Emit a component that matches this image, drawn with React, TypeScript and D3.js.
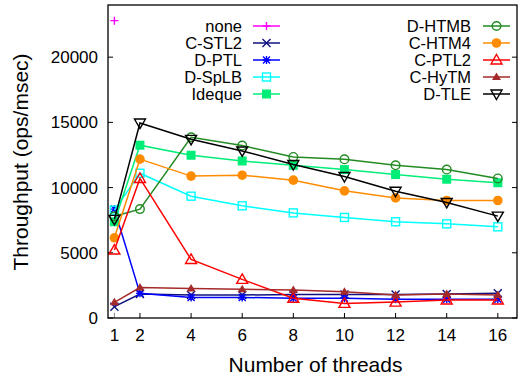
import React from 'react';
import * as d3 from 'd3';

const threads = [1, 2, 4, 6, 8, 10, 12, 14, 16];
const yTicks = [0, 5000, 10000, 15000, 20000];

const noneVals = [22800];
const cStl2Vals = [870, 1840, 1760, 1760, 1810, 1810, 1810, 1840, 1890];
const dPtlVals = [8350, 1890, 1580, 1580, 1510, 1510, 1430, 1430, 1430];
const dSplbVals = [8270, 11100, 9340, 8600, 8060, 7710, 7380, 7220, 6990];
const idequeVals = [7380, 13250, 12480, 12040, 11710, 11380, 11000, 10640, 10370];
const dHtmbVals = [7800, 8350, 13860, 13220, 12350, 12170, 11710, 11380, 10700];
const cHtm4Vals = [6150, 12180, 10880, 10950, 10570, 9750, 9210, 9010, 9010];
const cPtl2Vals = [5210, 10700, 4490, 2960, 1510, 1120, 1220, 1380, 1380];
const cHytmVals = [1200, 2340, 2270, 2200, 2140, 2010, 1760, 1840, 1760];
const dTleVals = [7560, 14950, 13700, 12810, 11770, 10850, 9720, 8860, 7810];

type Marker = 'plus' | 'cross' | 'star' | 'sqOpen' | 'sqFill' | 'circOpen' | 'circFill' | 'triOpen' | 'triFill' | 'triDown';

const series: { name: string; values: number[]; color: string; marker: Marker }[] = [
  { name: 'none', values: noneVals, color: '#ff00ff', marker: 'plus' },
  { name: 'C-STL2', values: cStl2Vals, color: '#101080', marker: 'cross' },
  { name: 'D-PTL', values: dPtlVals, color: '#0000ff', marker: 'star' },
  { name: 'D-SpLB', values: dSplbVals, color: '#00ffff', marker: 'sqOpen' },
  { name: 'Ideque', values: idequeVals, color: '#00ee77', marker: 'sqFill' },
  { name: 'D-HTMB', values: dHtmbVals, color: '#228b22', marker: 'circOpen' },
  { name: 'C-HTM4', values: cHtm4Vals, color: '#ff8c00', marker: 'circFill' },
  { name: 'C-PTL2', values: cPtl2Vals, color: '#ff0000', marker: 'triOpen' },
  { name: 'C-HyTM', values: cHytmVals, color: '#a52a2a', marker: 'triFill' },
  { name: 'D-TLE', values: dTleVals, color: '#000000', marker: 'triDown' },
];

const W = 520;
const H = 376;
const plot = { left: 108, right: 517, top: 5, bottom: 318 };
const font = '"Liberation Sans", Arial, sans-serif';

const x = d3.scaleLinear().domain([0.75, 16.75]).range([plot.left, plot.right]);
const y = d3.scaleLinear().domain([0, 24000]).range([plot.bottom, plot.top]);

const MarkerShape: React.FC<{ kind: Marker; cx: number; cy: number; color: string }> = ({ kind, cx, cy, color }) => {
  const sw = 1.4;
  switch (kind) {
    case 'plus':
      return <path d={`M${cx - 4},${cy}H${cx + 4}M${cx},${cy - 4}V${cy + 4}`} stroke={color} strokeWidth={sw} fill="none" />;
    case 'cross':
      return <path d={`M${cx - 4},${cy - 4}L${cx + 4},${cy + 4}M${cx - 4},${cy + 4}L${cx + 4},${cy - 4}`} stroke={color} strokeWidth={sw} fill="none" />;
    case 'star':
      return (
        <path
          d={`M${cx - 4},${cy}H${cx + 4}M${cx},${cy - 4}V${cy + 4}M${cx - 3.5},${cy - 3.5}L${cx + 3.5},${cy + 3.5}M${cx - 3.5},${cy + 3.5}L${cx + 3.5},${cy - 3.5}`}
          stroke={color} strokeWidth={sw} fill="none"
        />
      );
    case 'sqOpen':
      return <rect x={cx - 4} y={cy - 4} width={8} height={8} stroke={color} strokeWidth={sw} fill="none" />;
    case 'sqFill':
      return <rect x={cx - 4.5} y={cy - 4.5} width={9} height={9} fill={color} />;
    case 'circOpen':
      return <circle cx={cx} cy={cy} r={4.3} stroke={color} strokeWidth={sw} fill="none" />;
    case 'circFill':
      return <circle cx={cx} cy={cy} r={4.8} fill={color} />;
    case 'triOpen':
      return <path d={`M${cx},${cy - 5.5}L${cx + 5.5},${cy + 4}L${cx - 5.5},${cy + 4}Z`} stroke={color} strokeWidth={sw} fill="none" />;
    case 'triFill':
      return <path d={`M${cx},${cy - 4.5}L${cx + 4.5},${cy + 3}L${cx - 4.5},${cy + 3}Z`} fill={color} />;
    case 'triDown':
      return <path d={`M${cx},${cy + 5.5}L${cx + 5.5},${cy - 4}L${cx - 5.5},${cy - 4}Z`} stroke={color} strokeWidth={sw} fill="none" />;
  }
};

export default function App() {
  const line = d3.line<[number, number]>().x(d => x(d[0])).y(d => y(d[1]));

  const leftCol = series.slice(0, 5);
  const rightCol = series.slice(5);

  return (
    <svg width={W} height={H} style={{ position: 'absolute', left: 0, top: 0, background: '#fff' }} fontFamily={font}>
      {/* y ticks + labels, mirrored */}
      {yTicks.map(t => (
        <g key={t}>
          <line x1={plot.left} x2={plot.left + 5} y1={y(t)} y2={y(t)} stroke="#000" />
          <line x1={plot.right} x2={plot.right - 5} y1={y(t)} y2={y(t)} stroke="#000" />
          <text x={98} y={y(t)} dy="0.35em" textAnchor="end" fontSize={17}>{t}</text>
        </g>
      ))}
      {/* x ticks + labels */}
      {threads.map(t => (
        <g key={t}>
          <line x1={x(t)} x2={x(t)} y1={plot.bottom} y2={plot.bottom - 5} stroke={t === 1 ? '#888' : '#000'} />
          <text x={x(t)} y={341} textAnchor="middle" fontSize={17}>{t}</text>
        </g>
      ))}

      {/* series */}
      {series.map(s => {
        const pts = s.values.map((v, i) => [threads[i], v] as [number, number]);
        return (
          <g key={s.name}>
            {pts.length > 1 && <path d={line(pts) || ''} fill="none" stroke={s.color} strokeWidth={1.5} />}
            {pts.map((p, i) => (
              <MarkerShape key={i} kind={s.marker} cx={x(p[0])} cy={y(p[1])} color={s.color} />
            ))}
          </g>
        );
      })}

      {/* legend */}
      {leftCol.map((s, i) => {
        const cy = 26 + i * 17;
        return (
          <g key={s.name}>
            <text x={242} y={cy} dy="0.35em" textAnchor="end" fontSize={16.5}>{s.name}</text>
            <line x1={253} x2={280} y1={cy} y2={cy} stroke={s.color} strokeWidth={1.5} />
            <MarkerShape kind={s.marker} cx={266.5} cy={cy} color={s.color} />
          </g>
        );
      })}
      {rightCol.map((s, i) => {
        const cy = 26 + i * 17;
        return (
          <g key={s.name}>
            <text x={471} y={cy} dy="0.35em" textAnchor="end" fontSize={16.5}>{s.name}</text>
            <line x1={483} x2={510} y1={cy} y2={cy} stroke={s.color} strokeWidth={1.5} />
            <MarkerShape kind={s.marker} cx={496.5} cy={cy} color={s.color} />
          </g>
        );
      })}

      {/* border */}
      <rect x={plot.left} y={plot.top} width={plot.right - plot.left} height={plot.bottom - plot.top} fill="none" stroke="#000" strokeWidth={1.3} />

      {/* axis titles */}
      <text x={315.5} y={372} textAnchor="middle" fontSize={21}>Number of threads</text>
      <text transform="translate(28,162) rotate(-90)" textAnchor="middle" fontSize={21}>Throughput (ops/msec)</text>
    </svg>
  );
}
